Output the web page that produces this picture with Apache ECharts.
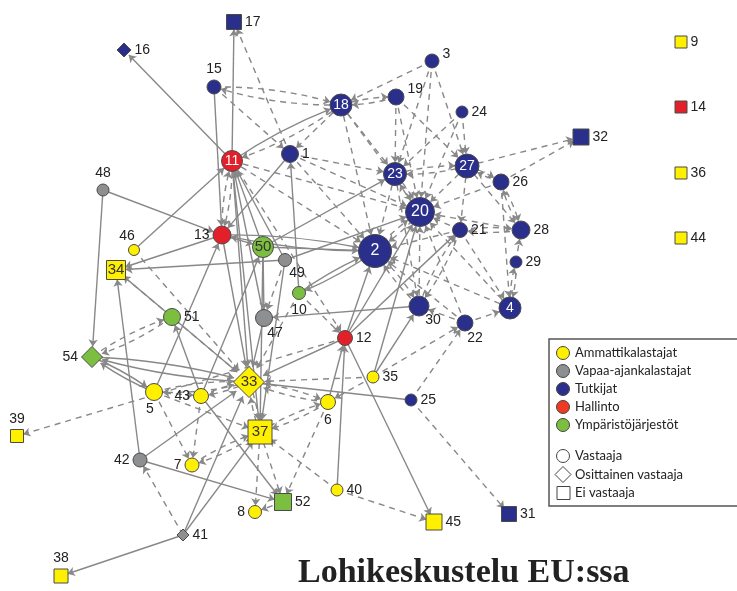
<!DOCTYPE html>
<html>
<head>
<meta charset="utf-8">
<script src="https://cdn.jsdelivr.net/npm/echarts@6/dist/echarts.min.js"></script>
<style>
html, body { margin: 0; padding: 0; background: #fff; }
#main { width: 737px; height: 591px; }
</style>
</head>
<body>
<div id="main"></div>
<script>
// toimijat: id, ryhmä (0..4), vastaustyyppi (c = vastaaja, d = osittainen, s = ei vastaaja)
var nodeIds   = ['1','2','3','4','5','6','7','8','9','10','11','12','13','14','15','16','17','18','19','20',
                 '21','22','23','24','25','26','27','28','29','30','31','32','33','34','35','36','37','38','39','40',
                 '41','42','43','44','45','46','47','48','49','50','51','52','54'];
var nodeGroup = [2,2,2,2,0,0,0,0,0,4,3,3,3,3,2,2,2,2,2,2,
                 2,2,2,2,2,2,2,2,2,2,2,2,0,0,0,0,0,0,0,0,
                 1,1,0,0,0,0,1,1,1,4,4,4,4];
var nodeType  = ['c','c','c','c','c','c','c','c','s','c','c','c','c','s','c','d','s','c','c','c',
                 'c','c','c','c','c','c','c','c','c','c','s','s','d','s','c','s','s','s','s','c',
                 'd','c','c','s','s','c','c','c','c','c','c','s','d'];
// verkon asettelu (x, y)
var nodeX = [290,375,432,510,154,328,192,255,681,299,232,345,222,681,214,124,234,341,396,420,
             460,465,395,462,411,501,467,521,516,419,509,581,249,116,373,681,260,61,17,337,
             183,140,201,681,434,134,264,103,285,263,172,283,92];
var nodeY = [154,251,61,308,392,402,465,512,42,293,161,338,235,107,87,50,22,105,97,212,
             230,323,174,112,400,182,166,230,262,306,514,137,382,270,377,173,432,576,436,490,
             535,460,396,238,522,250,318,190,260,247,317,502,357];

var groupNames = ['Ammattikalastajat','Vapaa-ajankalastajat','Tutkijat','Hallinto','Ympäristöjärjestöt'];
var typeNames = ['Vastaaja','Osittainen vastaaja','Ei vastaaja'];

// suorat yhteydet [lähde, kohde]
var solidLinks = [
  [11,16],[11,17],[11,18],[15,13],[1,13],[46,11],[48,13],[48,54],[13,34],[13,2],[2,13],
  [50,2],[49,34],[10,1],[2,10],[10,2],[50,23],[49,20],[12,2],[12,21],[12,33],[12,45],
  [12,20],[35,20],[35,30],[6,12],[40,12],[30,47],[33,54],[54,33],[54,5],[5,54],[5,13],
  [43,51],[51,33],[51,34],[43,52],[43,50],[42,33],[42,52],[42,34],[41,38],[41,33],[41,37],
  [11,33],[11,37],[47,11],[50,11],[49,11],[13,33],[50,47],[50,37],[49,37],[47,33],[25,33],[13,50]
];
// katkoviivayhteydet [lähde, kohde]
var dashedLinks = [
  [1,17],[15,1],[18,1],[18,15],[15,18],[13,11],[11,13],
  [3,18],[19,18],[18,19],[3,23],[3,27],[3,20],[19,23],[19,20],[19,27],[24,27],[24,23],[24,20],
  [27,32],[26,32],[18,20],[18,23],[18,2],[18,11],[23,20],[20,23],[27,20],[27,23],[23,27],
  [26,27],[27,26],[27,21],[27,28],[26,20],[26,28],[28,26],[20,2],[2,20],[23,2],[21,20],[21,2],
  [21,28],[28,20],[28,21],[29,28],[29,4],[4,29],[21,4],[4,20],[4,2],[30,20],[30,2],[2,30],
  [30,21],[22,4],[22,20],[22,30],[25,22],[25,31],[22,2],[1,2],[1,20],[1,23],[11,2],[11,12],
  [11,20],[10,12],[35,22],[26,4],[21,30],[23,30],
  [33,6],[6,33],[43,33],[33,43],[5,33],[33,5],[33,37],[37,33],[5,37],[7,37],[37,7],[43,7],
  [5,7],[6,37],[37,6],[40,45],[41,42],[52,8],[37,52],[37,8],[6,52],[40,37],[35,33],[12,39],
  [51,54],[54,51],[34,33],[46,33],[35,6],[49,47],[10,33],[5,43]
];

// tyylit
var groupColors = ['#fff000','#8d8f91','#2b2f8c','#e3202a','#7cbf40'];
var legendColors = ['#fff000','#8d8f91','#2b2f8c','#ef3b24','#7cbf40'];
var shapeOf = { c: 'circle', d: 'diamond', s: 'rect' };
var nodeSize = {
  '1':17,'2':33,'3':14,'4':22,'5':17,'6':15,'7':14,'8':13,'9':12,'10':13,'11':21,'12':15,'13':18,
  '14':12,'15':14,'16':14,'17':15,'18':22,'19':16,'20':29,'21':15,'22':16,'23':23,'24':12,'25':12,
  '26':16,'27':24,'28':18,'29':12,'30':20,'31':15,'32':16,'33':31,'34':19,'35':12,'36':12,'37':24,
  '38':14,'39':13,'40':12,'41':12,'42':14,'43':15,'44':12,'45':16,'46':11,'47':17,'48':12,'49':13,
  '50':21,'51':17,'52':17,'54':21
};
var insideWhite = ['2','4','11','18','20','23','27'];
var insideDark = ['33','34','37','50'];
var labelPos = {
  '3': ['right', [0,-7]], '5': ['bottom', [-4,-2]], '6': ['bottom', [0,0]], '7': ['left', [0,0]],
  '8': ['left', [0,0]], '10': ['bottom', [0,0]], '13': ['left', [0,0]], '15': ['top', [0,0]],
  '19': ['right', [0,-8]], '22': ['bottom', [10,-3]], '30': ['bottom', [14,-6]], '38': ['top', [0,0]],
  '39': ['top', [0,0]], '42': ['left', [0,0]], '43': ['left', [0,0]], '46': ['top', [-7,2]],
  '47': ['bottom', [11,-4]], '48': ['top', [0,0]], '49': ['bottom', [12,-4]], '54': ['left', [0,0]]
};

var nodes = nodeIds.map(function(id, i) {
  var g = nodeGroup[i];
  var t = nodeType[i];
  var lab = { show: true, fontFamily: 'Liberation Sans', fontSize: 14, color: '#222', position: 'right', distance: 3 };
  if (insideWhite.indexOf(id) >= 0) {
    lab.position = 'inside'; lab.color = '#fff'; lab.fontSize = id === '2' || id === '20' ? 16 : 14;
  } else if (insideDark.indexOf(id) >= 0) {
    lab.position = 'inside'; lab.color = '#333'; lab.fontSize = 15;
  } else if (labelPos[id]) {
    lab.position = labelPos[id][0]; lab.offset = labelPos[id][1];
  }
  return {
    name: id,
    value: [nodeX[i], nodeY[i]],
    symbol: shapeOf[t],
    symbolSize: nodeSize[id],
    itemStyle: { color: groupColors[g], borderColor: '#4a4a4a', borderWidth: 1 },
    label: lab
  };
});

function hasPair(list, a, b) {
  for (var k = 0; k < list.length; k++) {
    if (list[k][0] === a && list[k][1] === b) return true;
  }
  return false;
}
var allLinks = solidLinks.concat(dashedLinks);
var links = [];
solidLinks.forEach(function(l) {
  links.push({ source: String(l[0]), target: String(l[1]),
    lineStyle: { type: 'solid', curveness: hasPair(allLinks, l[1], l[0]) ? 0.06 : 0 } });
});
dashedLinks.forEach(function(l) {
  links.push({ source: String(l[0]), target: String(l[1]),
    lineStyle: { type: [6, 5], curveness: hasPair(allLinks, l[1], l[0]) ? 0.08 : 0 } });
});

// legenda
var legendItems = [];
legendItems.push({ type: 'rect', shape: { x: 549, y: 339, width: 200, height: 167 },
  style: { fill: '#fff', stroke: '#555', lineWidth: 1.5 } });
groupNames.forEach(function(n, i) {
  var y = 353 + i * 18;
  legendItems.push({ type: 'circle', shape: { cx: 563, cy: y, r: 6.5 },
    style: { fill: legendColors[i], stroke: '#444', lineWidth: 1 } });
  legendItems.push({ type: 'text', x: 575, y: y, style: { text: n, fill: '#222',
    font: '13px Lato', verticalAlign: 'middle' } });
});
typeNames.forEach(function(n, i) {
  var y = 456 + i * 18.5;
  var shape;
  if (i === 0) shape = { type: 'circle', shape: { cx: 563, cy: y, r: 6.5 } };
  else if (i === 1) shape = { type: 'polygon', shape: { points: [[563, y - 8], [571, y], [563, y + 8], [555, y]] } };
  else shape = { type: 'rect', shape: { x: 557, y: y - 6.5, width: 13, height: 13 } };
  shape.style = { fill: '#fff', stroke: '#444', lineWidth: 1 };
  legendItems.push(shape);
  legendItems.push({ type: 'text', x: 575, y: y, style: { text: n, fill: '#222',
    font: '13px Lato', verticalAlign: 'middle' } });
});

var myChart = echarts.init(document.getElementById('main'));
var option = {
  animation: false,
  title: {
    text: 'Lohikeskustelu EU:ssa',
    left: 298, top: 556, padding: 0,
    textStyle: { fontFamily: 'Liberation Serif', fontWeight: 'bold', fontSize: 34, color: '#222' }
  },
  grid: { left: 0, right: 0, top: 0, bottom: 0 },
  xAxis: { type: 'value', min: 0, max: 737, show: false },
  yAxis: { type: 'value', min: 0, max: 591, inverse: true, show: false },
  graphic: { elements: [{ type: 'group', z: 100, children: legendItems }] },
  series: [{
    type: 'graph',
    coordinateSystem: 'cartesian2d',
    data: nodes,
    links: links,
    edgeSymbol: ['none', 'arrow'],
    edgeSymbolSize: [0, 7],
    lineStyle: { color: '#888', width: 1.4, opacity: 1 },
    emphasis: { disabled: true }
  }]
};
myChart.setOption(option);
</script>
</body>
</html>
